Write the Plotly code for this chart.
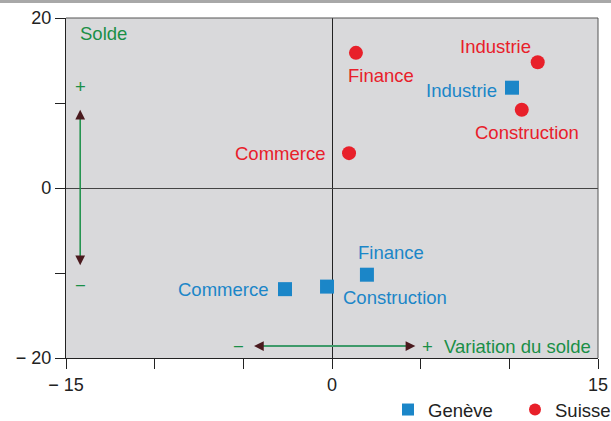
import plotly.graph_objects as go

# ---- data ----
sectors_ge = ["Industrie", "Finance", "Construction", "Commerce"]
ge_x = [10.15, 1.97, -0.28, -2.65]
ge_y = [11.8, -10.2, -11.6, -11.9]

sectors_ch = ["Finance", "Industrie", "Construction", "Commerce"]
ch_x = [1.35, 11.6, 10.7, 0.96]
ch_y = [15.9, 14.8, 9.2, 4.1]

x_tickvals = [-15, -10, -5, 0, 5, 10, 15]
x_ticktext = ["− 15", "", "", "0", "", "", "15"]
y_tickvals = [-20, -10, 0, 10, 20]
y_ticktext = ["− 20", "", "0", "", "20"]

# label offsets (pixels) and anchors
ge_lab = {"Industrie": (-13, -3, "right"), "Finance": (24, 22, "center"),
          "Construction": (68, -11, "center"), "Commerce": (-15, 0, "right")}
ch_lab = {"Finance": (25, -23, "center"), "Industrie": (-42, 16, "center"),
          "Construction": (5, -23, "center"), "Commerce": (-22, 0, "right")}

BLUE = "#1b86c8"
RED = "#e8202a"
GREEN = "#1a8f47"
DARK = "#4a1a1e"
FONT = "Liberation Sans, Arial, sans-serif"
FS = 18.5

fig = go.Figure()
fig.add_trace(go.Scatter(x=ge_x, y=ge_y, mode="markers", name="Genève",
                         marker=dict(symbol="square", size=14, color=BLUE)))
fig.add_trace(go.Scatter(x=ch_x, y=ch_y, mode="markers", name="Suisse",
                         marker=dict(symbol="circle", size=14, color=RED)))

ann = []
for s, x, y in zip(sectors_ge, ge_x, ge_y):
    dx, dy, xa = ge_lab[s]
    ann.append(dict(x=x, y=y, text=s, showarrow=False, xshift=dx, yshift=dy,
                    xanchor=xa, yanchor="middle", font=dict(color=BLUE, size=FS)))
for s, x, y in zip(sectors_ch, ch_x, ch_y):
    dx, dy, xa = ch_lab[s]
    ann.append(dict(x=x, y=y, text=s, showarrow=False, xshift=dx, yshift=dy,
                    xanchor=xa, yanchor="middle", font=dict(color=RED, size=FS)))

# axis guide texts
ann += [
    dict(x=-14.35, y=18.2, text="Solde", showarrow=False, xanchor="left",
         font=dict(color=GREEN, size=FS)),
    dict(x=-14.2, y=11.9, text="+", showarrow=False, font=dict(color=GREEN, size=FS)),
    dict(x=-14.2, y=-11.5, text="−", showarrow=False, font=dict(color=GREEN, size=FS)),
    dict(x=-5.3, y=-18.6, text="−", showarrow=False, font=dict(color=GREEN, size=FS)),
    dict(x=5.4, y=-18.6, text="+", showarrow=False, font=dict(color=GREEN, size=FS)),
    dict(x=6.2, y=-18.6, text="Variation du solde", showarrow=False, xanchor="left",
         font=dict(color=GREEN, size=FS)),
]
# arrowheads
for (x, y, ax, ay) in [(-14.2, 9.2, 0, 10), (-14.2, -9.1, 0, -10),
                       (-4.4, -18.6, 10, 0), (4.7, -18.6, -10, 0)]:
    ann.append(dict(x=x, y=y, ax=ax, ay=ay, axref="pixel", ayref="pixel",
                    showarrow=True, arrowhead=2, arrowsize=1.3, arrowwidth=1.5,
                    arrowcolor=DARK, text=""))

shapes = [
    dict(type="line", xref="x", yref="y", x0=-14.2, x1=-14.2, y0=-8.5, y1=8.6,
         line=dict(color=GREEN, width=1.5)),
    dict(type="line", xref="x", yref="y", x0=-4.0, x1=4.3, y0=-18.6, y1=-18.6,
         line=dict(color="#3f9a6a", width=2)),
    # top/right frame
    dict(type="line", xref="paper", yref="paper", x0=0, x1=1, y0=1, y1=1,
         line=dict(color="#555555", width=1)),
    dict(type="line", xref="paper", yref="paper", x0=1, x1=1, y0=0, y1=1,
         line=dict(color="#555555", width=1)),
    # page rule at the very top
    dict(type="line", xref="paper", yref="paper", x0=-66/532, x1=1 + 13/532,
         y0=1 + 16.5/340, y1=1 + 16.5/340, line=dict(color="#a8a8a8", width=3)),
]

fig.update_layout(
    width=611, height=421,
    margin=dict(l=66, r=13, t=18, b=63, autoexpand=False),
    paper_bgcolor="white", plot_bgcolor="#d9d9db",
    font=dict(family=FONT, size=18, color="#222222"),
    showlegend=True,
    legend=dict(orientation="h", xref="container", yref="container",
                x=388/611, y=1 - 410/421, xanchor="left", yanchor="middle",
                font=dict(size=FS, color="#222222"), bgcolor="rgba(0,0,0,0)",
                entrywidth=82, itemsizing="constant"),
    annotations=ann, shapes=shapes,
)
fig.update_xaxes(range=[-15, 15], tickvals=x_tickvals, ticktext=x_ticktext,
                 showgrid=False, zeroline=True, zerolinecolor="#222222", zerolinewidth=1,
                 showline=True, linecolor="#222222", linewidth=1.2,
                 ticks="outside", ticklen=10, tickcolor="#222222", ticklabelstandoff=0,
                 automargin=False)
fig.update_yaxes(range=[-20, 20], tickvals=y_tickvals, ticktext=y_ticktext,
                 showgrid=False, zeroline=True, zerolinecolor="#444444", zerolinewidth=1,
                 showline=True, linecolor="#222222", linewidth=1.2,
                 ticks="outside", ticklen=10, tickcolor="#222222", automargin=False)

fig.write_html("out.html", config={"displayModeBar": False},
               post_script="document.body.style.margin='0';document.body.style.overflow='hidden';")
